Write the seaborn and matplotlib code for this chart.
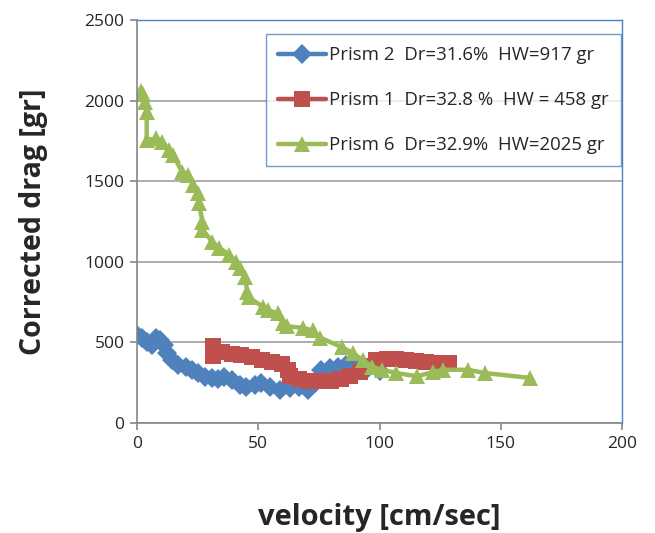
import matplotlib
matplotlib.use("Agg")
import matplotlib.pyplot as plt
import seaborn as sns
import pandas as pd

# Prism 2
p2_x = [0, 2, 4, 6, 8, 9.5, 11, 12.5, 14.5, 17, 20, 22.7, 25, 28, 31, 33.5, 36, 39, 42.5, 45,
        48.5, 51, 55, 59, 63, 67, 70.5, 73.5, 76, 79.5, 83, 86, 90, 95, 100]
p2_y = [545, 525, 505, 485, 525, 515, 485, 435, 390, 360, 345, 330, 310, 285, 280, 273, 285, 267, 236, 223,
        236, 248, 223, 205, 217, 223, 205, 248, 329, 341, 347, 360, 350, 335, 320]
# Prism 1
p1_x = [31.3, 31.3, 35, 39, 43, 47.4, 51.5, 55.7, 59.8, 62.3, 63, 67, 71, 75, 80, 84, 88, 92, 95, 98.5,
        103, 107, 111, 115, 119, 124, 128.7]
p1_y = [478, 416, 440, 428, 422, 409, 391, 378, 366, 329, 292, 273, 261, 261, 261, 273, 292, 316, 354, 391,
        397, 397, 391, 385, 378, 372, 372]
# Prism 6
p6_x = [1.5, 2.5, 3.5, 4, 4, 8, 10.5, 13, 15, 18.5, 21, 23, 25, 25.5, 27, 27, 31, 34, 38, 41, 42.5, 44.5,
        45.5, 46, 52, 54, 58, 60, 62, 68.5, 72.5, 75.5, 84.5, 89, 93, 97, 101, 107, 115.5, 122, 126, 136.5,
        143.5, 162]
p6_y = [2060, 2040, 1990, 1930, 1755, 1765, 1745, 1695, 1660, 1560, 1540, 1475, 1425, 1365, 1250, 1200, 1125,
        1085, 1045, 1000, 960, 905, 810, 780, 720, 700, 680, 620, 600, 590, 575, 530, 470, 435, 390, 350, 330,
        310, 290, 315, 330, 330, 310, 280]

labels = ["Prism 2  Dr=31.6%  HW=917 gr",
          "Prism 1  Dr=32.8 %  HW = 458 gr",
          "Prism 6  Dr=32.9%  HW=2025 gr"]
x_ticks = [0, 50, 100, 150, 200]
y_ticks = [0, 500, 1000, 1500, 2000, 2500]

sns.set_style("white")
plt.rcParams['font.family'] = ['Open Sans', 'DejaVu Sans']

fig = plt.figure(figsize=(6.55, 5.33), dpi=100)
ax = fig.add_axes([137/655, 1-423/533, (622-137)/655, (423-20)/533])

series = [(p2_x, p2_y, "#4F81BD", "D", 10, labels[0]),
          (p1_x, p1_y, "#C0504D", "s", 11, labels[1]),
          (p6_x, p6_y, "#9BBB59", "^", 12, labels[2])]
for xs, ys, c, m, ms, lab in series:
    df = pd.DataFrame({"x": xs, "y": ys})
    sns.lineplot(data=df, x="x", y="y", sort=False, estimator=None, ax=ax, color=c,
                 marker=m, markersize=ms, markeredgewidth=0, linewidth=3.2, label=lab)

ax.set_xlim(0, 200)
ax.set_ylim(0, 2500)
ax.set_xticks(x_ticks)
ax.set_yticks(y_ticks)
ax.yaxis.grid(True, color="#A0A0A0", linewidth=1.2)
ax.set_axisbelow(True)
ax.tick_params(axis="both", direction="out", length=5, width=1.2, color="#868686",
               labelsize=12.5, pad=4, bottom=True, left=True)
for s in ["left", "bottom"]:
    ax.spines[s].set_color("#868686")
    ax.spines[s].set_linewidth(1.2)
for s in ["top", "right"]:
    ax.spines[s].set_color("#4F81BD")
    ax.spines[s].set_linewidth(1.0)

ax.set_xlabel("velocity [cm/sec]", fontsize=21, fontweight="bold", labelpad=37)
ax.set_ylabel("Corrected drag [gr]", fontsize=20.5, fontweight="bold", labelpad=26)

leg = ax.legend(loc="upper right", bbox_to_anchor=(0.998, 1-14/403), fontsize=13.4,
                frameon=True, fancybox=False, handlelength=2.6, handletextpad=0.15,
                labelspacing=1.45, borderpad=0.65, borderaxespad=0)
leg.get_frame().set_edgecolor("#4F81BD")
leg.get_frame().set_linewidth(1.0)

fig.savefig("out.png", dpi=100, facecolor="white")
